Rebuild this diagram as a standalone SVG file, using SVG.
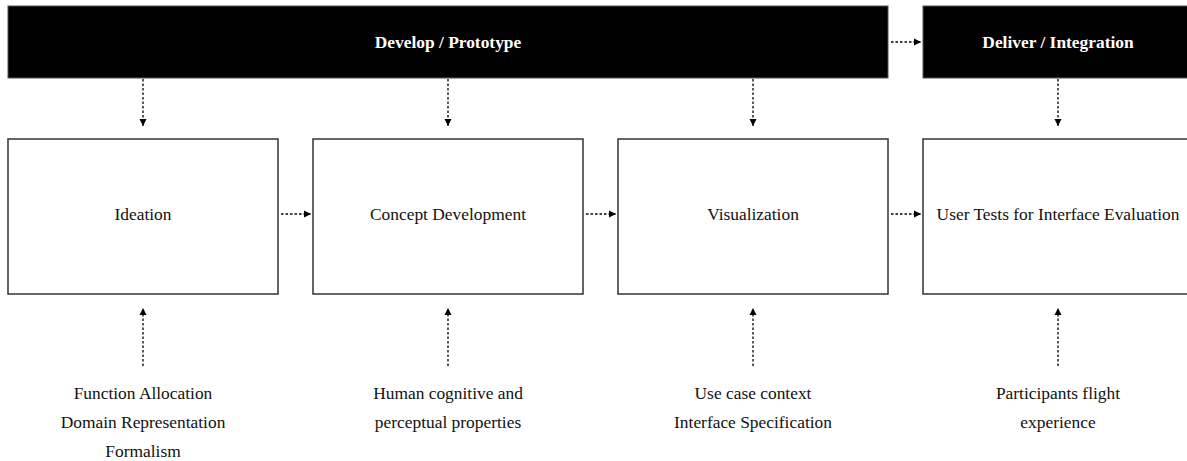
<svg xmlns="http://www.w3.org/2000/svg" width="1187" height="461" viewBox="0 0 1187 461">
<style>
.bar{fill:#000;stroke:#555;stroke-width:1}
.box{fill:#fff;stroke:#333;stroke-width:1.5}
text{font-family:'Liberation Serif','Times New Roman','DejaVu Serif',serif;font-size:17.4px;text-anchor:middle}
.t{fill:#111}
.tb{font-weight:bold;fill:#fff}
.c{stroke:#000;stroke-width:1.3;stroke-dasharray:2.5 2;fill:none;marker-end:url(#ah)}
</style>
<defs>
<marker id="ah" markerWidth="8" markerHeight="8" refX="7" refY="4" orient="auto" markerUnits="userSpaceOnUse">
<path d="M0,0.5 L7,4 L0,7.5 Z" fill="#000"/>
</marker>
</defs>
<g id="develop"><rect class="bar" x="8" y="6" width="880" height="72"/><text class="tb" x="448" y="48">Develop / Prototype</text></g>
<g id="deliver"><rect class="bar" x="923" y="6" width="270" height="72"/><text class="tb" x="1058" y="48">Deliver / Integration</text></g>
<g id="ideation"><rect class="box" x="8" y="139" width="270" height="155"/><text class="t" x="143" y="220">Ideation</text></g>
<g id="concept"><rect class="box" x="313" y="139" width="270" height="155"/><text class="t" x="448" y="220">Concept Development</text></g>
<g id="visualization"><rect class="box" x="618" y="139" width="270" height="155"/><text class="t" x="753" y="220">Visualization</text></g>
<g id="usertests"><rect class="box" x="923" y="139" width="280" height="155"/><text class="t" x="1058" y="220">User Tests for Interface Evaluation</text></g>
<g id="in1"><text class="t" x="143" y="399">Function Allocation</text><text class="t" x="143" y="428">Domain Representation</text><text class="t" x="143" y="457">Formalism</text></g>
<g id="in2"><text class="t" x="448" y="399">Human cognitive and</text><text class="t" x="448" y="428">perceptual properties</text></g>
<g id="in3"><text class="t" x="753" y="399">Use case context</text><text class="t" x="753" y="428">Interface Specification</text></g>
<g id="in4"><text class="t" x="1058" y="399">Participants flight</text><text class="t" x="1058" y="428">experience</text></g>
<g id="connectors">
<path class="c" d="M143,79 V126"/>
<path class="c" d="M448,79 V126"/>
<path class="c" d="M753,79 V126"/>
<path class="c" d="M1058,79 V126"/>
<path class="c" d="M891,42 H921"/>
<path class="c" d="M281,214 H311"/>
<path class="c" d="M586,214 H616"/>
<path class="c" d="M891,214 H921"/>
<path class="c" d="M143,366 V308"/>
<path class="c" d="M448,366 V308"/>
<path class="c" d="M753,366 V308"/>
<path class="c" d="M1058,366 V308"/>
</g>
</svg>
